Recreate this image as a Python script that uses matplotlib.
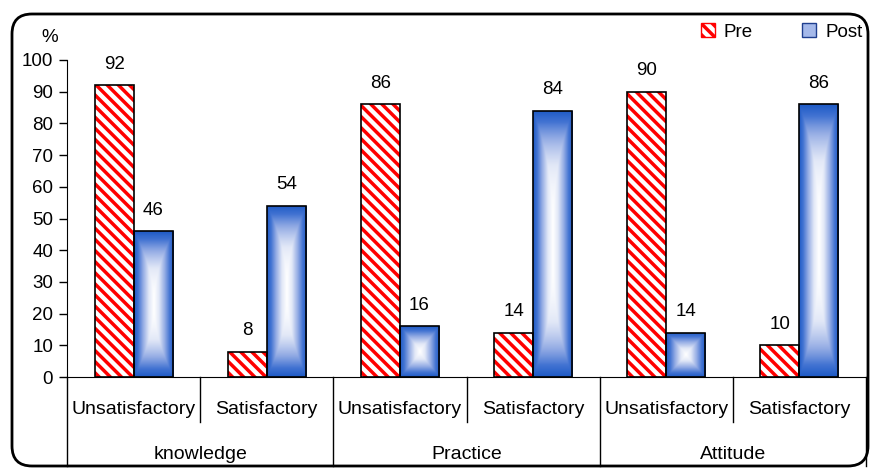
import numpy as np
import matplotlib
matplotlib.use("Agg")
import matplotlib.pyplot as plt
from matplotlib.patches import Patch, FancyBboxPatch
from matplotlib.colors import LinearSegmentedColormap
from matplotlib.transforms import blended_transform_factory

plt.rcParams['font.family'] = ['Liberation Sans', 'DejaVu Sans']
plt.rcParams['hatch.linewidth'] = 2.5

groups = ["knowledge", "Practice", "Attitude"]
levels = ["Unsatisfactory", "Satisfactory"]
pre = [92, 8, 86, 14, 90, 10]
post = [46, 54, 16, 84, 14, 86]

fig = plt.figure(figsize=(8.72, 4.70), dpi=100)
ax = fig.add_axes([67/872, 1-377/470, (866-67)/872, (377-60)/470])

x = np.arange(len(pre))
w = 0.293
cmap = LinearSegmentedColormap.from_list(
    "blu", [(0, "#ffffff"), (0.25, "#e2e8f7"), (0.55, "#93abe4"), (0.8, "#4273d2"), (1, "#1f5bc6")])

# Pre: red diagonal stripes, black outline on top
ax.bar(x - w/2, pre, w, facecolor='white', edgecolor='#ff0000', linewidth=0,
       hatch='\\\\\\', zorder=2)
ax.bar(x - w/2, pre, w, facecolor='none', edgecolor='black', linewidth=1.2, zorder=3)

# Post: blue bars with a gradient from the centre
px_per_unit_x = (866 - 67) / 6
px_per_unit_y = (377 - 60) / 100
u = np.linspace(-1, 1, 120)
U, V = np.meshgrid(u, u)
for xi, h in zip(x, post):
    x0 = xi
    k = max(1.0, np.sqrt(h * px_per_unit_y / (w * px_per_unit_x)))
    grad = np.maximum(np.abs(U), np.abs(V) ** k)
    im = ax.imshow(grad, cmap=cmap, extent=[x0, x0 + w, 0, h], aspect='auto',
                   interpolation='bilinear', zorder=2, vmin=0, vmax=1)
    r = plt.Rectangle((x0, 0), w, h, facecolor='none', edgecolor='black', linewidth=1.2, zorder=3)
    ax.add_patch(r)
    im.set_clip_path(r)

for xi, v in zip(x, pre):
    ax.annotate(str(v), (xi - w/2, v), xytext=(0, 12), textcoords='offset points',
                ha='center', va='baseline', fontsize=13.5)
for xi, v in zip(x, post):
    ax.annotate(str(v), (xi + w/2, v), xytext=(0, 12), textcoords='offset points',
                ha='center', va='baseline', fontsize=13.5)

ax.set_xlim(-0.5, 5.5)
ax.set_ylim(0, 100)
ax.set_yticks(range(0, 101, 10))
ax.tick_params(axis='y', length=6, width=1, labelsize=13.5, pad=4)
ax.set_xticks([])
ax.spines['top'].set_visible(False)
ax.spines['right'].set_visible(False)

# two-level category axis
tr = blended_transform_factory(ax.transData, ax.transAxes)
for i in range(len(pre)):
    ax.text(i, -0.104, levels[i % 2], transform=tr, ha='center', va='center', fontsize=14)
for g, name in enumerate(groups):
    ax.text(2*g + 0.5, -0.246, name, transform=tr, ha='center', va='center', fontsize=14)
for b in np.arange(-0.5, 6, 1):
    if (b + 0.5) % 2 == 0:
        ax.plot([b, b], [0, -0.28], transform=tr, color='black', lw=1, clip_on=False)
    else:
        ax.plot([b, b], [0, -0.142], transform=tr, color='black', lw=1, clip_on=False)

fig.text(50/872, 1-37/470, "%", ha='center', va='center', fontsize=13.5)

handles = [Patch(facecolor='white', edgecolor='#ff0000', hatch='\\\\\\', label='Pre'),
           Patch(facecolor='#a5b9ea', edgecolor='#1f3f8f', label='Post')]
fig.legend(handles=handles, loc='center right', bbox_to_anchor=(870/872, 1-32/470), ncol=2,
           frameon=False, fontsize=13.5, handlelength=0.75, handleheight=0.75,
           handletextpad=0.5, columnspacing=2.6, borderaxespad=0)

border = FancyBboxPatch((0.12, 0.04), 8.56, 4.52, boxstyle="round,pad=0,rounding_size=0.2",
                        transform=fig.dpi_scale_trans, facecolor='none', edgecolor='black',
                        linewidth=2.0)
fig.patches.append(border)

fig.savefig("out.png", dpi=100)
